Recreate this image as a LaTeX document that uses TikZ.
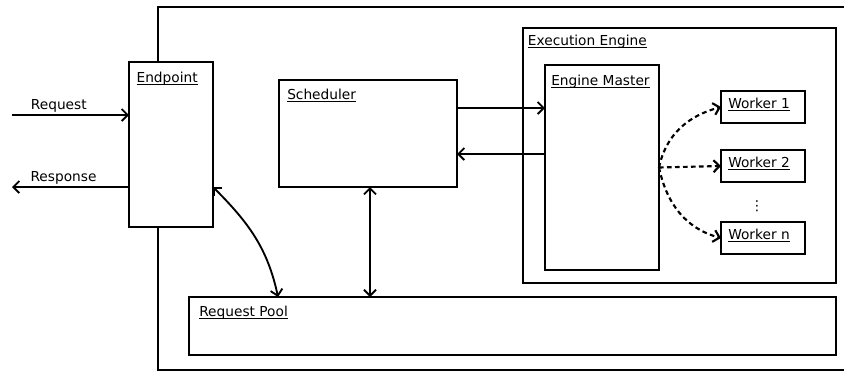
\documentclass[tikz,border=0pt]{standalone}
\usepackage{fontspec}
\setmainfont{DejaVu Sans}
\usetikzlibrary{arrows.meta}
\newcommand\ttl[1]{\underline{\smash{#1}}}
\tikzset{
  box/.style={draw, fill=white, line width=2.2pt, anchor=north west, inner sep=0pt, outer sep=0pt},
  title/.style={anchor=base west, inner sep=0pt},
  link/.style={line width=1.4pt},
  fanout/.style={->, line width=1.6pt, dash pattern=on 3.5pt off 2.5pt}
}

\begin{document}
\begin{tikzpicture}[x=0.75pt,y=-0.75pt,>={Straight Barb[length=4.5pt,width=9pt]},
    font=\fontsize{10.3pt}{12pt}\selectfont]
    \useasboundingbox (0,0) rectangle (844,372);
    \clip (0,0) rectangle (844,372);

    % boxes
    \node[box, minimum width=556.5pt, minimum height=272.25pt] (srv) at (158,7) {};
    \node[box, minimum width=63pt, minimum height=123.75pt] (ep) at (129,62) {};
    \node[box, minimum width=133.5pt, minimum height=80.25pt] (sch) at (279,80) {};
    \node[box, minimum width=234.75pt, minimum height=191.25pt] (eng) at (523,28) {};
    \node[box, minimum width=85.5pt, minimum height=153.75pt] (em) at (545,65) {};
    \node[box, minimum width=63pt, minimum height=24pt] (w1) at (721,91) {};
    \node[box, minimum width=63pt, minimum height=24pt] (w2) at (721,150) {};
    \node[box, minimum width=63pt, minimum height=24pt] (wn) at (721,222) {};
    \node[box, minimum width=485.25pt, minimum height=43.5pt] (pool) at (189,297) {};

    % titles
    \node[title] (ep-t) at ([shift={(5.5pt,-15pt)}]ep.north west) {\ttl{Endpoint}};
    \node[title] (sch-t) at ([shift={(6pt,-14.25pt)}]sch.north west) {\ttl{Scheduler}};
    \node[title] (eng-t) at ([shift={(3.5pt,-12.75pt)}]eng.north west) {\ttl{Execution Engine}};
    \node[title] (em-t) at ([shift={(4.5pt,-15.5pt)}]em.north west) {\ttl{Engine Master}};
    \node[title] (w1-t) at ([shift={(5.25pt,-12.75pt)}]w1.north west) {\ttl{Worker 1}};
    \node[title] (w2-t) at ([shift={(5.25pt,-12.75pt)}]w2.north west) {\ttl{Worker 2}};
    \node[title] (wn-t) at ([shift={(5.25pt,-12.75pt)}]wn.north west) {\ttl{Worker n}};
    \node[title] (pool-t) at ([shift={(7.5pt,-14.25pt)}]pool.north west) {\ttl{Request Pool}};
    \node[inner sep=0pt] (dots) at (757,206) {⋮};

    % connectors
    \coordinate (reqin) at (12,115);
    \coordinate (resout) at (12,187);
    \coordinate (row1) at (0,108);
    \coordinate (row2) at (0,154);
    \coordinate (col1) at (278,0);
    \coordinate (col2) at (370,0);
    \draw[link, ->] (reqin) -- node[above, pos=0.4, inner sep=1pt] {Request} (reqin -| ep.west);
    \draw[link, ->] (resout -| ep.west) -- node[above, pos=0.56, inner sep=1pt] {Response} (resout);
    \draw[link, <->] (resout -| ep.east) to[out=-45, in=102] (col1 |- pool.north);
    \draw[link, <->] (col2 |- sch.south) -- (col2 |- pool.north);
    \draw[link, ->] (row1 -| sch.east) -- (row1 -| em.west);
    \draw[link, ->] (row2 -| em.west) -- (row2 -| sch.east);
    \draw[fanout] (em.east) to[out=78, in=195] (w1.west);
    \draw[fanout] (em.east) -- (w2.west);
    \draw[fanout] (em.east) to[out=-78, in=165] (wn.west);
\end{tikzpicture}
\end{document}
